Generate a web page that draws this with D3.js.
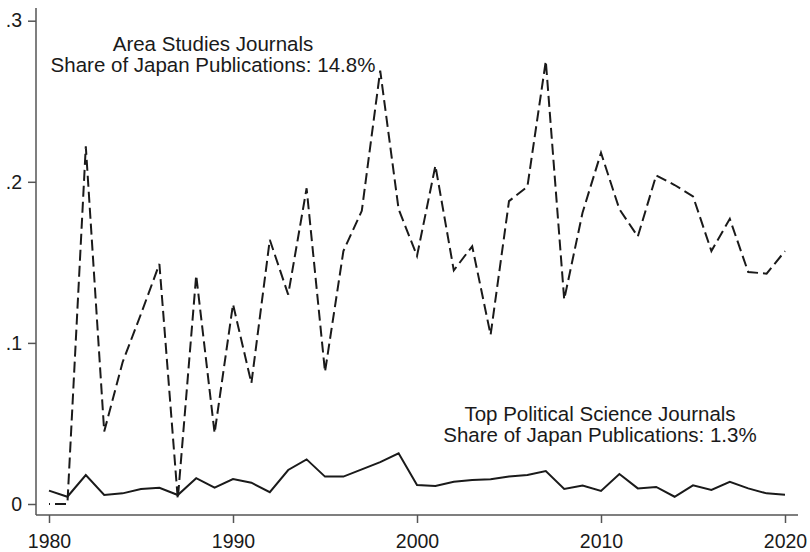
<!DOCTYPE html>
<html>
<head>
<meta charset="utf-8">
<script src="https://cdn.jsdelivr.net/npm/d3@7/dist/d3.min.js"></script>
<style>
  html, body { margin: 0; padding: 0; background: #fff; }
  svg { display: block; }
  text { font-family: "Liberation Sans", Arial, sans-serif; fill: #1a1a1a; }
</style>
</head>
<body>
<svg id="chart" width="810" height="552"></svg>
<script>
const years = d3.range(1980, 2021);
const areaStudies = [
  0.000, 0.000, 0.222, 0.045, 0.088, 0.118, 0.149, 0.003, 0.142, 0.044,
  0.124, 0.075, 0.164, 0.130, 0.196, 0.082, 0.157, 0.182, 0.269, 0.183,
  0.154, 0.210, 0.145, 0.160, 0.105, 0.188, 0.197, 0.275, 0.127, 0.181,
  0.218, 0.183, 0.166, 0.204, 0.198, 0.191, 0.157, 0.177, 0.144, 0.143,
  0.157
];
const topPolSci = [
  0.0083, 0.0045, 0.0180, 0.0056, 0.0066, 0.0093, 0.0101, 0.0056, 0.0160, 0.0101,
  0.0155, 0.0132, 0.0073, 0.0211, 0.0277, 0.0170, 0.0170, 0.0215, 0.0260, 0.0315,
  0.0118, 0.0112, 0.0138, 0.0149, 0.0153, 0.0170, 0.0180, 0.0205, 0.0093, 0.0114,
  0.0081, 0.0186, 0.0097, 0.0106, 0.0045, 0.0116, 0.0087, 0.0137, 0.0097, 0.0066,
  0.0058
];
const xTicks = [1980, 1990, 2000, 2010, 2020];
const yTicks = [0, 0.1, 0.2, 0.3];
const yTickLabels = ["0", ".1", ".2", ".3"];
const areaLabel = ["Area Studies Journals", "Share of Japan Publications: 14.8%"];
const polLabel = ["Top Political Science Journals", "Share of Japan Publications: 1.3%"];

const svg = d3.select("#chart");
const x = d3.scaleLinear().domain([1980, 2020]).range([49, 785]);
const y = d3.scaleLinear().domain([0, 0.3]).range([504, 20.7]);

const axisColor = "#555";
const fontSize = "19.5px";
const labelSize = "20.5px";

// Y axis
const yAxis = svg.append("g").attr("transform", "translate(36,0)")
  .call(d3.axisLeft(y).tickValues(yTicks).tickFormat((d, i) => yTickLabels[i]).tickSize(8).tickPadding(6).tickSizeOuter(0));
yAxis.select(".domain").remove();
yAxis.append("line").attr("x1", 0).attr("x2", 0).attr("y1", 8).attr("y2", 515)
  .attr("stroke", axisColor).attr("stroke-width", 1.5);
yAxis.selectAll(".tick line").attr("stroke", axisColor).attr("stroke-width", 1.5);
yAxis.selectAll(".tick text").style("font-size", fontSize).attr("fill", "#1a1a1a")
  .style("font-family", '"Liberation Sans", Arial, sans-serif');

// X axis
const xAxis = svg.append("g").attr("transform", "translate(0,515)")
  .call(d3.axisBottom(x).tickValues(xTicks).tickFormat(d3.format("d")).tickSize(8).tickPadding(11).tickSizeOuter(0));
xAxis.select(".domain").remove();
xAxis.append("line").attr("x1", 36).attr("x2", 798).attr("y1", 0).attr("y2", 0)
  .attr("stroke", axisColor).attr("stroke-width", 1.5);
xAxis.selectAll(".tick line").attr("stroke", axisColor).attr("stroke-width", 1.5);
xAxis.selectAll(".tick text").style("font-size", fontSize).attr("fill", "#1a1a1a")
  .style("font-family", '"Liberation Sans", Arial, sans-serif');

// Lines
const line = d3.line().x((d, i) => x(years[i])).y(d => y(d));
svg.append("path").datum(areaStudies)
  .attr("d", line).attr("fill", "none").attr("stroke", "#1a1a1a")
  .attr("stroke-width", 2).attr("stroke-dasharray", "11,5").attr("stroke-dashoffset", -6);
svg.append("path").datum(topPolSci)
  .attr("d", line).attr("fill", "none").attr("stroke", "#1a1a1a")
  .attr("stroke-width", 2).attr("stroke-linejoin", "miter");

// Labels (one text element per line)
function addLabel(lines, cx, baseline) {
  lines.forEach((s, i) => {
    svg.append("text").attr("text-anchor", "middle").style("font-size", labelSize)
      .attr("x", cx).attr("y", baseline + i * 21).text(s);
  });
}
addLabel(areaLabel, 213, 51);
addLabel(polLabel, 600, 420.5);
</script>
</body>
</html>
